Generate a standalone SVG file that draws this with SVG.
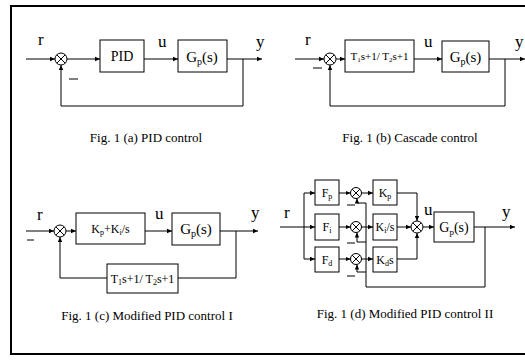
<svg xmlns="http://www.w3.org/2000/svg" width="525" height="362" viewBox="0 0 525 362">
<defs>
<marker id="ar" markerWidth="6" markerHeight="6" refX="5" refY="3" orient="auto" markerUnits="userSpaceOnUse">
<path d="M0,0.8 L5,3 L0,5.2 Z" fill="#000"/>
</marker>
<style>
.ln{fill:none;stroke:#000;stroke-width:1}
.a{marker-end:url(#ar)}
.bx{fill:#fff;stroke:#000;stroke-width:1}
.sm{fill:#fff;stroke:#000;stroke-width:1}
text{font-family:"Liberation Serif","Times New Roman",serif;fill:#000}
.lb{font-size:17px}
.g{font-size:15px;text-anchor:middle}
.t{font-size:11px;text-anchor:middle}
.cap{font-size:13px;text-anchor:middle}
</style>
</defs>
<rect width="525" height="362" fill="#fff"/>
<path d="M525,6 H11 V354 H525" fill="none" stroke="#000" stroke-width="2"/>

<!-- Panel a -->
<g id="a-sum"><circle class="sm" cx="61" cy="59" r="6"/><path class="ln" d="M56.8,54.8 L65.2,63.2 M65.2,54.8 L56.8,63.2"/></g>
<g id="a-pid"><rect class="bx" x="100" y="40" width="44" height="32"/><text x="122" y="61" font-size="14" text-anchor="middle">PID</text></g>
<g id="a-gp"><rect class="bx" x="178" y="40" width="49" height="32"/><text class="g" x="202" y="62">G<tspan font-size="10" dy="3">p</tspan><tspan dy="-3">(s)</tspan></text></g>
<g id="a-conn">
<path class="ln a" d="M26,59 H55"/>
<path class="ln a" d="M67,59 H100"/>
<path class="ln a" d="M144,59 H178"/>
<path class="ln a" d="M227,59 H262"/>
<path class="ln a" d="M243,59 V106 H61 V65"/>
<path class="ln" d="M69,79 H78"/>
</g>
<text class="lb" x="38" y="45">r</text>
<text class="lb" x="158" y="47">u</text>
<text class="lb" x="256" y="47">y</text>
<text class="cap" x="146" y="142">Fig. 1 (a) PID control</text>

<!-- Panel b -->
<g id="b-sum"><circle class="sm" cx="330" cy="59" r="6"/><path class="ln" d="M325.8,54.8 L334.2,63.2 M334.2,54.8 L325.8,63.2"/></g>
<g id="b-c"><rect class="bx" x="345" y="40" width="69" height="32"/><text class="t" x="379.5" y="60">T<tspan font-size="7" dy="2">1</tspan><tspan dy="-2">s+1/ T</tspan><tspan font-size="7" dy="2">2</tspan><tspan dy="-2">s+1</tspan></text></g>
<g id="b-gp"><rect class="bx" x="442" y="41" width="47" height="31"/><text class="g" x="465.5" y="62">G<tspan font-size="10" dy="3">p</tspan><tspan dy="-3">(s)</tspan></text></g>
<g id="b-conn">
<path class="ln a" d="M295,59 H324"/>
<path class="ln a" d="M336,59 H345"/>
<path class="ln a" d="M414,59 H442"/>
<path class="ln a" d="M489,59 H525"/>
<path class="ln a" d="M505,59 V106 H330 V65"/>
<path class="ln" d="M313,68 H322"/>
</g>
<text class="lb" x="305" y="45">r</text>
<text class="lb" x="424" y="47">u</text>
<text class="lb" x="515" y="47">y</text>
<text class="cap" x="410" y="142">Fig. 1 (b) Cascade control</text>

<!-- Panel c -->
<g id="c-sum"><circle class="sm" cx="60" cy="231" r="6"/><path class="ln" d="M55.8,226.8 L64.2,235.2 M64.2,226.8 L55.8,235.2"/></g>
<g id="c-k"><rect class="bx" x="76" y="213" width="69" height="31"/><text x="110.5" y="233" font-size="12" text-anchor="middle">K<tspan font-size="8" dy="2">p</tspan><tspan dy="-2">+K</tspan><tspan font-size="8" dy="2">i</tspan><tspan dy="-2">/s</tspan></text></g>
<g id="c-gp"><rect class="bx" x="172" y="213" width="48" height="32"/><text class="g" x="196" y="234">G<tspan font-size="10" dy="3">p</tspan><tspan dy="-3">(s)</tspan></text></g>
<g id="c-fb"><rect class="bx" x="107" y="264" width="71" height="29"/><text x="142.5" y="283" font-size="12" text-anchor="middle">T<tspan font-size="8" dy="2">1</tspan><tspan dy="-2">s+1/ T</tspan><tspan font-size="8" dy="2">2</tspan><tspan dy="-2">s+1</tspan></text></g>
<g id="c-conn">
<path class="ln a" d="M26,231 H54"/>
<path class="ln a" d="M66,231 H76"/>
<path class="ln a" d="M145,231 H172"/>
<path class="ln a" d="M220,231 H258"/>
<path class="ln" d="M236,231 V278 H178"/>
<path class="ln a" d="M107,278 H60 V237"/>
<path class="ln" d="M27,240 H34"/>
</g>
<text class="lb" x="37" y="220">r</text>
<text class="lb" x="155" y="219">u</text>
<text class="lb" x="251" y="218">y</text>
<text class="cap" x="147" y="320">Fig. 1 (c) Modified PID control I</text>

<!-- Panel d -->
<g id="d-fp"><rect class="bx" x="315" y="180" width="24" height="25"/><text x="327" y="197" font-size="12" text-anchor="middle">F<tspan font-size="8" dy="2">p</tspan></text></g>
<g id="d-fi"><rect class="bx" x="315" y="214" width="24" height="26"/><text x="327" y="231" font-size="12" text-anchor="middle">F<tspan font-size="8" dy="2">i</tspan></text></g>
<g id="d-fd"><rect class="bx" x="315" y="247" width="24" height="25"/><text x="327" y="264" font-size="12" text-anchor="middle">F<tspan font-size="8" dy="2">d</tspan></text></g>
<g id="d-s1"><circle class="sm" cx="356" cy="193" r="5.5"/><path class="ln" d="M352.1,189.1 L359.9,196.9 M359.9,189.1 L352.1,196.9"/></g>
<g id="d-s2"><circle class="sm" cx="356" cy="227" r="5.5"/><path class="ln" d="M352.1,223.1 L359.9,230.9 M359.9,223.1 L352.1,230.9"/></g>
<g id="d-s3"><circle class="sm" cx="356" cy="259" r="5.5"/><path class="ln" d="M352.1,255.1 L359.9,262.9 M359.9,255.1 L352.1,262.9"/></g>
<g id="d-kp"><rect class="bx" x="373" y="180" width="24" height="25"/><text x="385" y="197" font-size="12" text-anchor="middle">K<tspan font-size="8" dy="2">p</tspan></text></g>
<g id="d-ki"><rect class="bx" x="373" y="214" width="24" height="26"/><text x="385" y="231" font-size="12" text-anchor="middle">K<tspan font-size="8" dy="2">i</tspan><tspan dy="-2">/s</tspan></text></g>
<g id="d-kd"><rect class="bx" x="373" y="247" width="24" height="25"/><text x="385" y="264" font-size="12" text-anchor="middle">K<tspan font-size="8" dy="2">d</tspan><tspan dy="-2">s</tspan></text></g>
<g id="d-s4"><circle class="sm" cx="417" cy="227" r="6"/><path class="ln" d="M412.8,222.8 L421.2,231.2 M421.2,222.8 L412.8,231.2"/></g>
<g id="d-gp"><rect class="bx" x="434" y="212" width="40" height="30"/><text x="454" y="232" font-size="14" text-anchor="middle">G<tspan font-size="9" dy="3">p</tspan><tspan dy="-3">(s)</tspan></text></g>
<g id="d-conn">
<path class="ln" d="M280,227 H304 M304,193 V259"/>
<path class="ln a" d="M304,193 H315"/>
<path class="ln a" d="M304,227 H315"/>
<path class="ln a" d="M304,259 H315"/>
<path class="ln a" d="M339,193 H350.5"/>
<path class="ln a" d="M339,227 H350.5"/>
<path class="ln a" d="M339,259 H350.5"/>
<path class="ln a" d="M361.5,193 H373"/>
<path class="ln a" d="M361.5,227 H373"/>
<path class="ln a" d="M361.5,259 H373"/>
<path class="ln a" d="M397,193 H417 V221"/>
<path class="ln a" d="M397,227 H411"/>
<path class="ln a" d="M397,259 H417 V233"/>
<path class="ln a" d="M423,227 H434"/>
<path class="ln a" d="M474,227 H515"/>
<path class="ln" d="M485,227 V287 H366 V203 H357"/>
<path class="ln a" d="M357,203 V198.5"/>
<path class="ln" d="M366,242 H357"/>
<path class="ln a" d="M357,242 V232.5"/>
<path class="ln" d="M366,272 H357"/>
<path class="ln a" d="M357,272 V264.5"/>
<path class="ln" d="M347,205 H355 M347,243 H355 M347,276 H355"/>
</g>
<text class="lb" x="284" y="218">r</text>
<text class="lb" x="424" y="215">u</text>
<text class="lb" x="502" y="217">y</text>
<text class="cap" x="405" y="318">Fig. 1 (d) Modified PID control II</text>
</svg>
